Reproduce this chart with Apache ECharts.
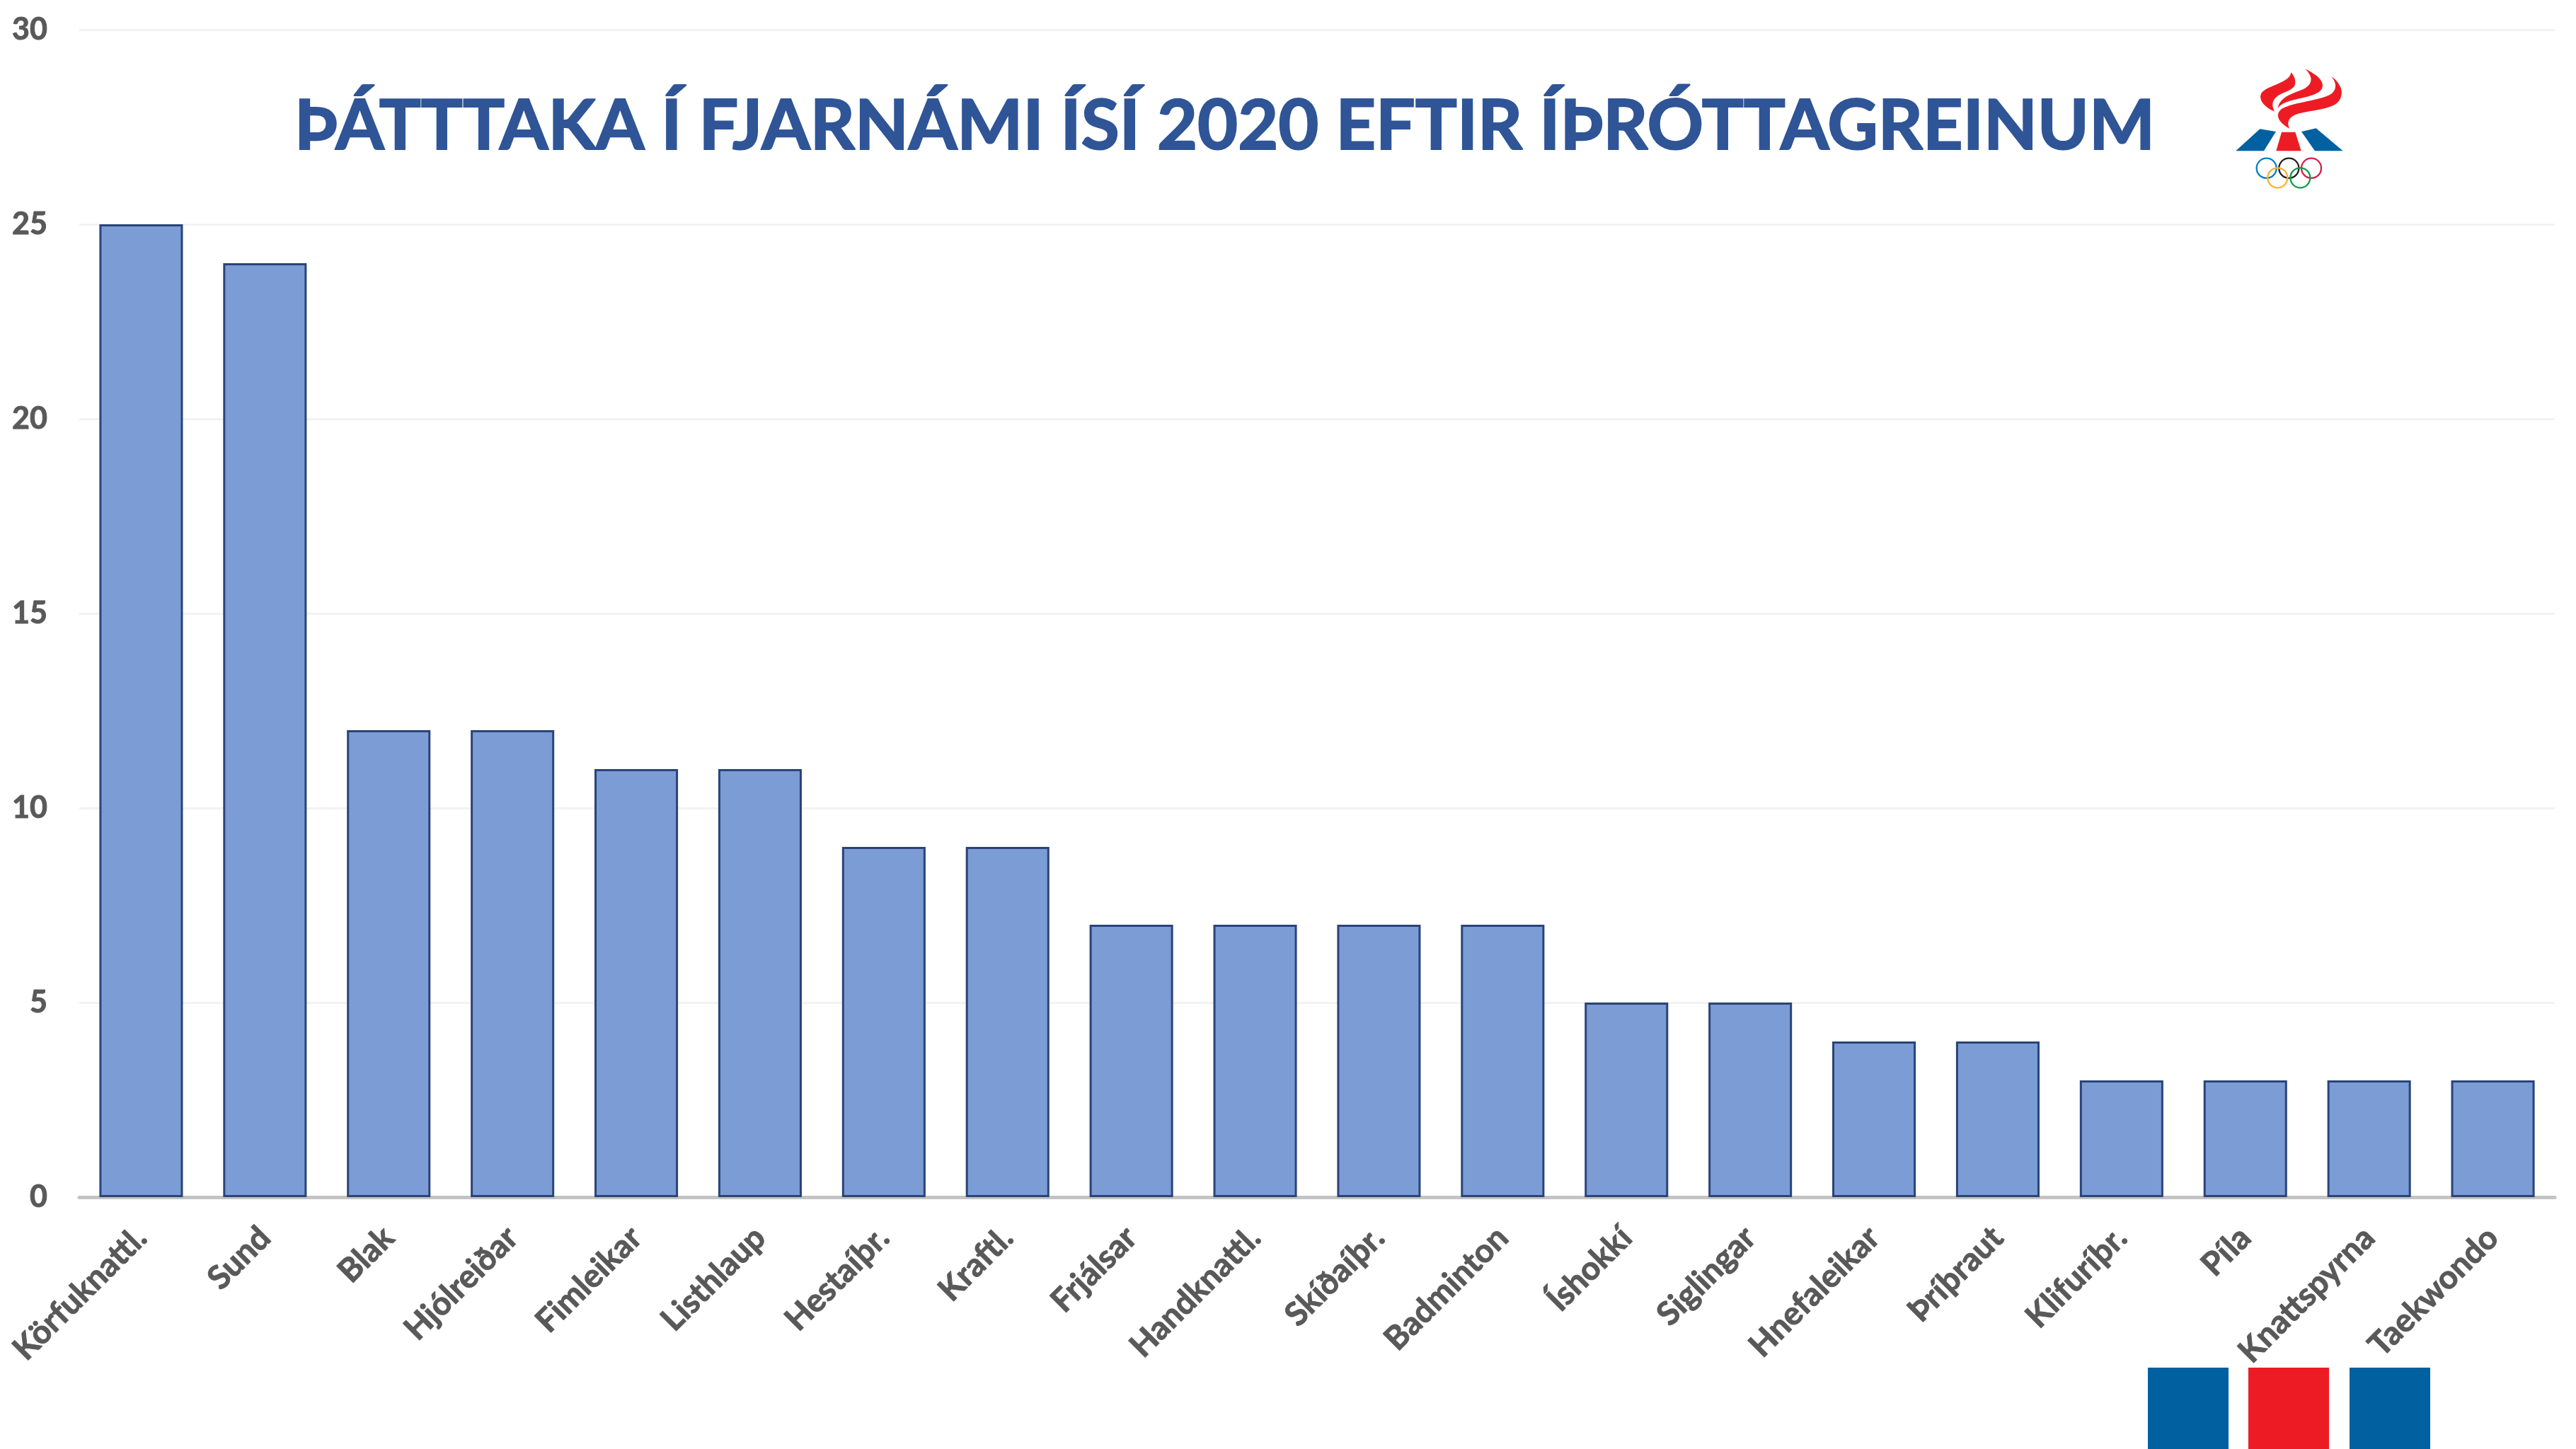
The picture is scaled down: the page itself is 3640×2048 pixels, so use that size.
<!DOCTYPE html>
<html>
<head>
<meta charset="utf-8">
<style>html,body{margin:0;padding:0;background:#fff}#c{width:3640px;height:2048px}</style>
<script src="https://cdn.jsdelivr.net/npm/echarts@6/dist/echarts.min.js"></script>
</head>
<body>
<div id="c"></div>
<script>
const titleText = 'ÞÁTTTAKA Í FJARNÁMI ÍSÍ 2020 EFTIR ÍÞRÓTTAGREINUM';
const categories = ['Körfuknattl.','Sund','Blak','Hjólreiðar','Fimleikar','Listhlaup','Hestaíþr.','Kraftl.','Frjálsar','Handknattl.','Skíðaíþr.','Badminton','Íshokkí','Siglingar','Hnefaleikar','Þríþraut','Klifuríþr.','Píla','Knattspyrna','Taekwondo'];
const participants = [25,24,12,12,11,11,9,9,7,7,7,7,5,5,4,4,3,3,3,3];
const FONT = 'Lato, "Noto Sans", sans-serif';
const chart = echarts.init(document.getElementById('c'), null, {renderer:'canvas'});

// Logo outlines: start point followed by cubic bezier control triples, flattened for polygon elements.
function flatten(start, curves) {
  const pts = [start]; let p0 = start;
  curves.forEach(c => {
    for (let i = 1; i <= 14; i++) {
      const t = i / 14, u = 1 - t;
      pts.push([
        u*u*u*p0[0] + 3*u*u*t*c[0] + 3*u*t*t*c[2] + t*t*t*c[4],
        u*u*u*p0[1] + 3*u*u*t*c[1] + 3*u*t*t*c[3] + t*t*t*c[5]
      ]);
    }
    p0 = [c[4], c[5]];
  });
  return pts;
}
const flame = (start, curves) => ({type:'polygon', shape:{points:flatten(start, curves)}, style:{fill:'#ED1C24'}});
const ring = (cx, cy, color) => ({type:'circle', shape:{cx, cy, r:42}, style:{fill:'none', stroke:color, lineWidth:7}});
const logo = {
  type:'group', x:3100, y:60, scaleX:1/3, scaleY:1/3, z:10,
  children:[
    flame([412,127],[[408,170,320,180,290,210],[270,235,290,270,342,293],[325,260,335,235,370,218],[400,205,430,195,430,170],[430,150,420,135,412,127]]),
    flame([472,112],[[500,140,510,170,470,195],[430,215,365,225,355,280],[375,250,420,245,480,230],[530,218,550,200,545,175],[535,145,505,130,472,112]]),
    flame([583,145],[[610,175,605,210,570,225],[510,250,420,255,375,280],[345,300,350,335,405,365],[390,330,410,310,450,300],[500,288,560,285,600,262],[625,245,632,215,622,190],[612,170,600,155,583,145]]),
    {type:'polygon', shape:{points:[[178,460],[280,367],[348,378],[297,460]]}, style:{fill:'#0060A0'}},
    {type:'polygon', shape:{points:[[632,460],[518,364],[456,378],[513,460]]}, style:{fill:'#0060A0'}},
    {type:'polygon', shape:{points:[[372,380],[430,380],[455,460],[349,460]]}, style:{fill:'#ED1C24'}},
    ring(308,533,'#0A7FBD'), ring(403,533,'#222222'), ring(498,533,'#D6204F'),
    ring(355,574,'#F2B531'), ring(451,574,'#0F9E4B')
  ]
};
const block = (x, w, color) => ({type:'rect', shape:{x, y:1933, width:w, height:115}, style:{fill:color}, z:10});

chart.setOption({
  animation:false,
  backgroundColor:'#ffffff',
  title:{text:titleText, left:411, top:125, textStyle:{fontFamily:FONT, fontWeight:'bold', fontSize:98.5, color:'#2F5597', textBorderColor:'#2F5597', textBorderWidth:2}},
  grid:{left:112, right:30, top:42, bottom:356, containLabel:false},
  xAxis:{
    type:'category', data:categories,
    axisLine:{show:true, lineStyle:{color:'#C4C4C4', width:5}},
    axisTick:{show:false},
    axisLabel:{interval:0, rotate:45, margin:50, color:'#595959', fontFamily:FONT, fontWeight:'bold', fontSize:46, textBorderColor:'#595959', textBorderWidth:1}
  },
  yAxis:{
    type:'value', min:0, max:30, interval:5,
    axisLine:{show:false}, axisTick:{show:false},
    splitLine:{show:true, lineStyle:{color:'#F2F2F2', width:3}},
    axisLabel:{margin:45, padding:[8,0,0,0], color:'#595959', fontFamily:FONT, fontWeight:'bold', fontSize:43, textBorderColor:'#595959', textBorderWidth:1}
  },
  series:[{
    type:'bar', data:participants, barWidth:'67.5%',
    itemStyle:{color:'#7C9CD6', borderColor:'#2A4478', borderWidth:3}
  }],
  graphic:[logo, block(3035,114,'#0060A0'), block(3177,114,'#ED1C24'), block(3320,114,'#0060A0')]
});
</script>
</body>
</html>
